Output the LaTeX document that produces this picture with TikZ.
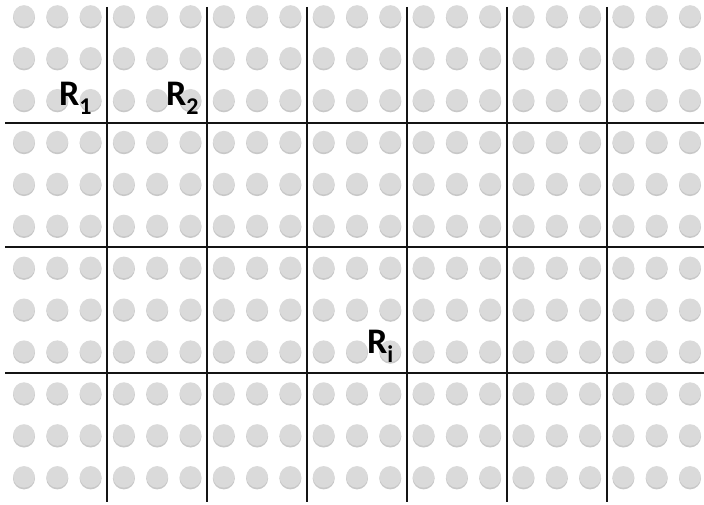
\documentclass[tikz,border=0pt]{standalone}
\usepackage{fontspec}
\setmainfont{Carlito}
\begin{document}
\begin{tikzpicture}[x=1pt,y=-1pt,
  dotshadow/.style={fill={rgb,255:red,200;green,200;blue,200}, draw=none},
  dotfill/.style={fill={rgb,255:red,218;green,218;blue,218}, draw=none},
  gridline/.style={line width=2pt, draw={rgb,255:red,20;green,20;blue,20}},
  lbl/.style={anchor=base west, inner sep=0pt, font=\fontsize{36}{38}\selectfont\bfseries}]
\useasboundingbox (0,0) rectangle (704,505);
\fill[white] (0,0) rectangle (704,505);
\foreach \r in {0,...,11}{
  \foreach \c in {0,...,20}{
    \fill[dotshadow] ({24+33.3*\c},{17.5+41.9*\r}) circle (11);
    \fill[dotfill] ({24+33.3*\c},{16+41.9*\r}) circle (10.8);
  }
}
\foreach \x in {107,207,307,407,507,607}{
  \draw[gridline] (\x,7) -- (\x,502);
}
\foreach \y in {123,247,373}{
  \draw[gridline] (5,\y) -- (704,\y);
}
\newcommand{\subsc}[1]{\raisebox{-9pt}{\fontsize{24}{26}\selectfont #1}}
\node[lbl] (r1) at (59,106) {R\subsc{1}};
\node[lbl] (r2) at (166,106) {R\subsc{2}};
\node[lbl] (ri) at (367,353) {R\subsc{i}};
\end{tikzpicture}
\end{document}
